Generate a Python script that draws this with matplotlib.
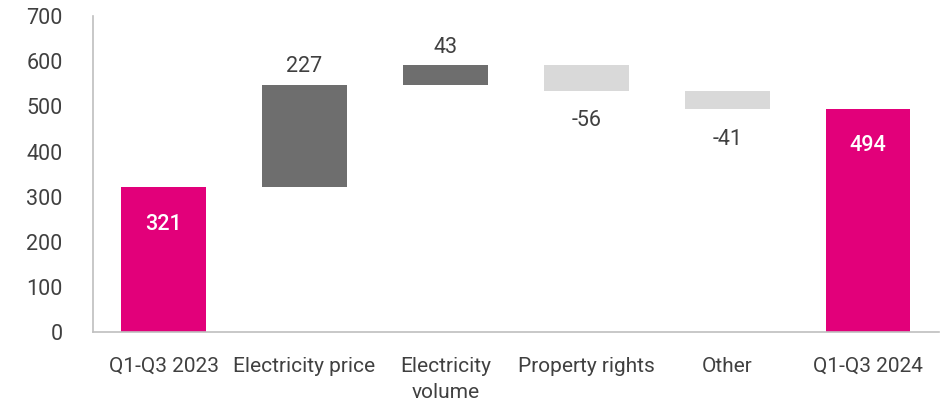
import matplotlib.pyplot as plt
import numpy as np

plt.rcParams['font.family'] = ['Roboto', 'DejaVu Sans']

categories = ['Q1-Q3 2023', 'Electricity price', 'Electricity\nvolume',
              'Property rights', 'Other', 'Q1-Q3 2024']
values = [321, 227, 43, -56, -41, 494]
is_total = [True, False, False, False, False, True]
y_ticks = [0, 100, 200, 300, 400, 500, 600, 700]

PINK = '#E2007A'
DARK = '#6E6E6E'
LIGHT = '#D9D9D9'
TEXT = '#404040'


def main():
    fig = plt.figure(figsize=(9.5, 4.05), dpi=100)
    ax = fig.add_axes([0.098, 0.180, 0.890, 0.780])

    x = np.arange(len(categories))
    running = 0
    for i, (v, tot) in enumerate(zip(values, is_total)):
        if tot:
            bottom, height, color = 0, v, PINK
            running = v
        else:
            bottom = running if v > 0 else running + v
            height = abs(v)
            color = DARK if v > 0 else LIGHT
            running += v
        ax.bar(x[i], height, bottom=bottom, width=0.6, color=color)

        if tot:
            ax.annotate(f'{v}', (x[i], v), xytext=(0, -26.5),
                        textcoords='offset points', ha='center', va='center',
                        color='white', fontsize=15.5, fontweight='medium')
        elif v > 0:
            ax.annotate(f'{v}', (x[i], bottom + height), xytext=(0, 13),
                        textcoords='offset points', ha='center', va='center',
                        color=TEXT, fontsize=15.5)
        else:
            ax.annotate(f'{v}', (x[i], bottom), xytext=(0, -21.5),
                        textcoords='offset points', ha='center', va='center',
                        color=TEXT, fontsize=15.5)

    ax.set_xlim(-0.5, len(categories) - 0.5)
    ax.set_ylim(0, 700)
    ax.set_yticks(y_ticks)
    ax.set_xticks(x)
    ax.set_xticklabels(categories, linespacing=1.45)
    ax.tick_params(axis='both', length=0, labelsize=15, colors=TEXT)
    ax.tick_params(axis='y', labelsize=15.5, pad=22)
    ax.tick_params(axis='x', pad=18)
    for s in ['top', 'right']:
        ax.spines[s].set_visible(False)
    for s in ['left', 'bottom']:
        ax.spines[s].set_color('#BFBFBF')
        ax.spines[s].set_linewidth(1.2)

    plt.savefig('out.png', dpi=100)
    plt.close()


if __name__ == '__main__':
    main()
